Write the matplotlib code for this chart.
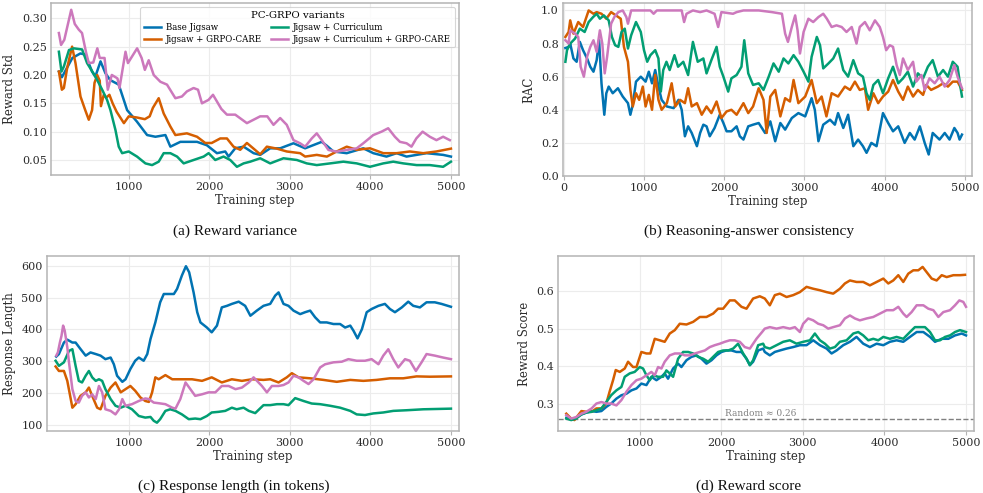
"""PC-GRPO training curves: 2x2 panel figure (reward std, RAC, length, score)."""
import matplotlib
matplotlib.use("Agg")
import matplotlib.pyplot as plt

# ---- data (step, value) -------------------------------------------------------
STD_BASE = [(133, 0.206), (170, 0.196), (300, 0.23), (400, 0.238), (460, 0.236), (545, 0.206),
            (585, 0.197), (650, 0.224), (711, 0.203), (770, 0.191), (876, 0.183), (980, 0.138),
            (1100, 0.118), (1228, 0.094), (1331, 0.091), (1455, 0.094), (1517, 0.0735), (1641, 0.082),
            (1848, 0.082), (1970, 0.076), (2095, 0.062), (2198, 0.065), (2240, 0.056), (2322, 0.0706),
            (2426, 0.0735), (2550, 0.062), (2632, 0.059), (2756, 0.0706), (2880, 0.0706), (3045, 0.0795),
            (3190, 0.0706), (3396, 0.082), (3460, 0.075), (3541, 0.065), (3706, 0.062), (3912, 0.0706),
            (4036, 0.062), (4200, 0.056), (4325, 0.062), (4449, 0.056), (4697, 0.062), (4903, 0.059),
            (5000, 0.056)]
STD_CARE = [(133, 0.206), (170, 0.174), (195, 0.177), (235, 0.212), (277, 0.238), (297, 0.25),
            (339, 0.221), (401, 0.162), (460, 0.138), (504, 0.121), (545, 0.138), (575, 0.186),
            (608, 0.2), (640, 0.19), (655, 0.145), (690, 0.165), (720, 0.16), (760, 0.165),
            (800, 0.15), (850, 0.135), (940, 0.115), (1000, 0.127), (1100, 0.125), (1200, 0.122),
            (1260, 0.127), (1300, 0.142), (1372, 0.159), (1434, 0.132), (1517, 0.109), (1579, 0.094),
            (1722, 0.097), (1848, 0.091), (1950, 0.08), (2030, 0.08), (2136, 0.088), (2219, 0.088),
            (2301, 0.0735), (2384, 0.068), (2467, 0.08), (2550, 0.07), (2632, 0.06), (2715, 0.0735),
            (2840, 0.07), (2962, 0.065), (3128, 0.062), (3190, 0.056), (3334, 0.059), (3460, 0.056),
            (3582, 0.065), (3706, 0.0735), (3830, 0.068), (3995, 0.0706), (4160, 0.062), (4325, 0.062),
            (4490, 0.065), (4656, 0.062), (4820, 0.065), (5000, 0.07)]
STD_CURR = [(133, 0.241), (165, 0.206), (195, 0.215), (258, 0.244), (318, 0.247), (421, 0.245),
            (483, 0.221), (587, 0.197), (670, 0.174), (731, 0.156), (773, 0.138), (835, 0.103),
            (876, 0.0735), (918, 0.062), (1000, 0.065), (1103, 0.056), (1207, 0.044), (1290, 0.041),
            (1372, 0.047), (1434, 0.062), (1517, 0.062), (1600, 0.056), (1682, 0.044), (1806, 0.05),
            (1930, 0.056), (1992, 0.062), (2074, 0.05), (2177, 0.056), (2260, 0.05), (2343, 0.038),
            (2426, 0.044), (2508, 0.047), (2632, 0.053), (2756, 0.044), (2921, 0.053), (3087, 0.05),
            (3210, 0.044), (3334, 0.041), (3500, 0.044), (3665, 0.047), (3830, 0.044), (3995, 0.038),
            (4160, 0.044), (4284, 0.047), (4408, 0.044), (4574, 0.041), (4738, 0.041), (4903, 0.038),
            (5000, 0.047)]
STD_CURR_CARE = [(133, 0.274), (160, 0.253), (200, 0.262), (286, 0.315), (330, 0.29), (380, 0.28),
                 (420, 0.274), (470, 0.24), (504, 0.221), (560, 0.222), (610, 0.247), (640, 0.23),
                 (700, 0.23), (740, 0.174), (790, 0.2), (860, 0.194), (885, 0.177), (960, 0.241),
                 (990, 0.221), (1104, 0.247), (1160, 0.23), (1200, 0.209), (1248, 0.226), (1310, 0.2),
                 (1393, 0.188), (1475, 0.183), (1579, 0.159), (1660, 0.162), (1722, 0.171), (1805, 0.177),
                 (1860, 0.174), (1909, 0.15), (1990, 0.156), (2046, 0.165), (2150, 0.14), (2219, 0.13),
                 (2322, 0.13), (2467, 0.115), (2632, 0.127), (2720, 0.127), (2797, 0.112), (2880, 0.124),
                 (2962, 0.112), (3045, 0.085), (3127, 0.0795), (3190, 0.0735), (3272, 0.088), (3334, 0.097),
                 (3396, 0.085), (3479, 0.0677), (3582, 0.0647), (3706, 0.0677), (3830, 0.0706),
                 (3912, 0.0795), (4036, 0.094), (4139, 0.1), (4221, 0.106), (4304, 0.091), (4367, 0.082),
                 (4449, 0.0795), (4510, 0.0735), (4570, 0.088), (4648, 0.1), (4738, 0.091), (4820, 0.085),
                 (4903, 0.091), (4986, 0.085)]

RAC_BASE = [(20, 0.773), (60, 0.78), (80, 0.8), (120, 0.71), (160, 0.69), (200, 0.81), (240, 0.76),
            (290, 0.71), (330, 0.66), (370, 0.63), (410, 0.70), (440, 0.82), (470, 0.56), (505, 0.37),
            (530, 0.5), (560, 0.54), (610, 0.5), (675, 0.53), (735, 0.48), (800, 0.44), (830, 0.37),
            (860, 0.43), (900, 0.57), (960, 0.6), (1020, 0.57), (1060, 0.63), (1100, 0.56), (1140, 0.64),
            (1180, 0.54), (1220, 0.46), (1285, 0.42), (1370, 0.41), (1430, 0.46), (1470, 0.4),
            (1510, 0.24), (1550, 0.3), (1595, 0.26), (1660, 0.18), (1700, 0.26), (1740, 0.31),
            (1780, 0.3), (1820, 0.24), (1880, 0.29), (1945, 0.37), (1990, 0.32), (2030, 0.27),
            (2090, 0.27), (2155, 0.3), (2195, 0.24), (2240, 0.22), (2300, 0.3), (2360, 0.31),
            (2430, 0.32), (2510, 0.26), (2575, 0.33), (2636, 0.21), (2700, 0.32), (2760, 0.28),
            (2843, 0.35), (2925, 0.38), (3010, 0.36), (3090, 0.47), (3130, 0.4), (3175, 0.21),
            (3235, 0.31), (3320, 0.34), (3380, 0.31), (3420, 0.38), (3485, 0.29), (3545, 0.37),
            (3610, 0.18), (3670, 0.22), (3730, 0.18), (3775, 0.14), (3835, 0.2), (3900, 0.18),
            (3980, 0.38), (4045, 0.32), (4105, 0.27), (4170, 0.3), (4250, 0.2), (4315, 0.26),
            (4375, 0.22), (4440, 0.3), (4500, 0.2), (4550, 0.13), (4600, 0.26), (4685, 0.22),
            (4750, 0.26), (4810, 0.22), (4870, 0.29), (4910, 0.26), (4935, 0.22), (4965, 0.25)]
RAC_CARE = [(20, 0.84), (60, 0.87), (80, 0.94), (120, 0.86), (180, 0.93), (240, 0.9), (310, 1.0),
            (370, 0.98), (410, 0.99), (470, 0.98), (530, 0.95), (590, 0.99), (650, 0.97), (710, 0.95),
            (750, 0.78), (800, 0.69), (830, 0.52), (860, 0.42), (900, 0.5), (940, 0.46), (985, 0.54),
            (1020, 0.42), (1060, 0.49), (1100, 0.4), (1140, 0.61), (1180, 0.46), (1220, 0.4),
            (1285, 0.44), (1345, 0.56), (1390, 0.42), (1450, 0.46), (1510, 0.44), (1550, 0.53),
            (1595, 0.42), (1660, 0.44), (1720, 0.37), (1780, 0.42), (1840, 0.38), (1905, 0.45),
            (1965, 0.35), (2030, 0.39), (2090, 0.4), (2155, 0.37), (2240, 0.44), (2300, 0.38),
            (2360, 0.42), (2430, 0.53), (2490, 0.46), (2530, 0.26), (2575, 0.48), (2636, 0.52),
            (2700, 0.36), (2760, 0.47), (2820, 0.45), (2865, 0.58), (2925, 0.44), (3010, 0.48),
            (3090, 0.58), (3155, 0.44), (3215, 0.48), (3275, 0.36), (3340, 0.5), (3420, 0.48),
            (3505, 0.54), (3570, 0.52), (3630, 0.57), (3690, 0.52), (3755, 0.53), (3795, 0.4),
            (3860, 0.5), (3920, 0.44), (3980, 0.48), (4045, 0.51), (4105, 0.58), (4170, 0.51),
            (4230, 0.46), (4290, 0.54), (4355, 0.48), (4415, 0.52), (4480, 0.49), (4520, 0.55),
            (4580, 0.52), (4665, 0.54), (4730, 0.56), (4790, 0.54), (4850, 0.57), (4910, 0.57),
            (4965, 0.52)]
RAC_CURR = [(20, 0.69), (40, 0.76), (80, 0.8), (140, 0.83), (200, 0.89), (260, 0.87), (310, 0.93),
            (365, 0.96), (410, 0.98), (450, 0.95), (500, 0.97), (560, 0.94), (600, 0.84), (640, 0.79),
            (680, 0.78), (720, 0.87), (760, 0.89), (800, 0.77), (840, 0.85), (900, 0.93), (960, 0.87),
            (1000, 0.76), (1040, 0.69), (1080, 0.73), (1140, 0.76), (1180, 0.71), (1210, 0.51),
            (1240, 0.64), (1280, 0.69), (1320, 0.64), (1380, 0.73), (1425, 0.66), (1490, 0.69),
            (1550, 0.61), (1610, 0.81), (1670, 0.69), (1740, 0.71), (1780, 0.62), (1840, 0.70),
            (1905, 0.78), (1945, 0.66), (1990, 0.6), (2050, 0.51), (2090, 0.59), (2155, 0.61),
            (2215, 0.66), (2250, 0.82), (2300, 0.62), (2360, 0.55), (2430, 0.56), (2490, 0.52),
            (2555, 0.6), (2615, 0.68), (2680, 0.63), (2740, 0.71), (2800, 0.68), (2865, 0.73),
            (2925, 0.69), (2990, 0.63), (3050, 0.57), (3090, 0.72), (3155, 0.84), (3195, 0.79),
            (3235, 0.65), (3300, 0.68), (3360, 0.71), (3420, 0.77), (3485, 0.64), (3545, 0.6),
            (3610, 0.70), (3670, 0.62), (3730, 0.6), (3775, 0.5), (3815, 0.46), (3860, 0.55),
            (3920, 0.58), (3980, 0.5), (4045, 0.59), (4105, 0.66), (4170, 0.56), (4230, 0.59),
            (4290, 0.63), (4355, 0.54), (4415, 0.62), (4480, 0.59), (4540, 0.66), (4600, 0.70),
            (4665, 0.6), (4730, 0.64), (4790, 0.6), (4850, 0.69), (4910, 0.66), (4945, 0.54),
            (4965, 0.48)]
RAC_CURR_CARE = [(20, 0.82), (60, 0.8), (80, 0.88), (140, 0.86), (180, 0.84), (210, 0.66), (250, 0.6),
                 (290, 0.72), (330, 0.78), (370, 0.82), (410, 0.75), (450, 0.88), (480, 0.8), (510, 0.62),
                 (540, 0.72), (590, 0.92), (630, 0.96), (680, 0.99), (735, 1.0), (780, 0.96), (800, 0.92),
                 (840, 1.0), (1080, 1.0), (1120, 0.98), (1160, 1.0), (1470, 1.0), (1500, 0.93),
                 (1530, 0.98), (1610, 1.0), (1700, 0.99), (1780, 1.0), (1880, 0.98), (1925, 0.9),
                 (1965, 0.99), (2110, 0.98), (2155, 0.99), (2240, 1.0), (2430, 1.0), (2595, 0.99),
                 (2720, 0.98), (2760, 0.86), (2795, 0.81), (2843, 0.9), (2885, 0.97), (2915, 0.88),
                 (2945, 0.74), (2990, 0.87), (3050, 0.95), (3110, 0.93), (3175, 0.96), (3235, 0.98),
                 (3280, 0.95), (3340, 0.9), (3400, 0.91), (3465, 0.9), (3525, 0.87), (3590, 0.9),
                 (3650, 0.8), (3690, 0.9), (3755, 0.93), (3815, 0.88), (3880, 0.94), (3940, 0.9),
                 (3980, 0.84), (4020, 0.76), (4065, 0.79), (4105, 0.78), (4150, 0.67), (4190, 0.61),
                 (4230, 0.71), (4290, 0.64), (4355, 0.69), (4395, 0.57), (4460, 0.61), (4500, 0.52),
                 (4560, 0.59), (4625, 0.56), (4685, 0.6), (4750, 0.54), (4810, 0.58), (4870, 0.67),
                 (4910, 0.6), (4965, 0.53)]

LEN_BASE = [(100, 315), (133, 323), (195, 359), (237, 368), (300, 359), (340, 359), (400, 339),
            (465, 318), (525, 328), (590, 323), (650, 318), (710, 307), (775, 312), (815, 291),
            (855, 255), (920, 236), (960, 244), (1020, 276), (1080, 302), (1125, 312), (1185, 302),
            (1230, 323), (1270, 370), (1330, 422), (1390, 485), (1435, 511), (1475, 511), (1560, 511),
            (1600, 527), (1660, 569), (1710, 598), (1750, 579), (1805, 516), (1850, 454), (1890, 422),
            (1970, 406), (2030, 391), (2095, 412), (2155, 469), (2220, 474), (2280, 480), (2365, 487),
            (2445, 474), (2510, 443), (2590, 459), (2673, 474), (2756, 480), (2818, 506), (2860, 516),
            (2921, 480), (2983, 474), (3045, 459), (3128, 448), (3190, 454), (3252, 459), (3314, 438),
            (3376, 422), (3458, 422), (3541, 417), (3624, 417), (3686, 406), (3750, 412), (3790, 396),
            (3840, 372), (3895, 401), (3954, 454), (4015, 464), (4100, 474), (4180, 480), (4243, 464),
            (4305, 454), (4390, 469), (4470, 487), (4532, 474), (4615, 469), (4697, 485), (4800, 485),
            (4883, 480), (5000, 471)]
LEN_CARE = [(92, 284), (133, 270), (195, 270), (237, 239), (280, 182), (300, 155), (340, 166),
            (400, 192), (465, 203), (505, 218), (546, 192), (608, 155), (650, 150), (710, 192),
            (775, 218), (835, 234), (900, 203), (960, 213), (1020, 223), (1080, 208), (1145, 187),
            (1205, 176), (1250, 173), (1290, 203), (1330, 250), (1372, 244), (1455, 257), (1540, 244),
            (1660, 244), (1786, 244), (1910, 239), (2030, 250), (2155, 234), (2280, 244), (2405, 239),
            (2530, 244), (2673, 242), (2756, 244), (2860, 234), (2962, 250), (3025, 263), (3108, 250),
            (3252, 247), (3417, 242), (3582, 236), (3750, 242), (3912, 239), (4078, 242), (4243, 247),
            (4408, 247), (4574, 253), (4738, 252), (5000, 253)]
LEN_CURR = [(92, 302), (133, 286), (195, 297), (258, 333), (300, 338), (340, 286), (380, 239),
            (420, 234), (465, 255), (505, 270), (546, 250), (590, 239), (630, 244), (670, 239),
            (710, 213), (775, 182), (835, 161), (900, 155), (960, 161), (1040, 150), (1125, 129),
            (1205, 124), (1270, 126), (1310, 114), (1350, 108), (1390, 119), (1455, 145), (1515, 150),
            (1580, 145), (1660, 134), (1745, 119), (1825, 121), (1890, 119), (1970, 129), (2030, 140),
            (2115, 142), (2198, 145), (2280, 155), (2340, 150), (2425, 155), (2490, 145), (2570, 138),
            (2673, 163), (2756, 163), (2840, 166), (2921, 166), (2983, 163), (3066, 185), (3170, 176),
            (3272, 168), (3376, 166), (3500, 161), (3624, 155), (3750, 145), (3830, 134), (3933, 132),
            (4036, 137), (4160, 140), (4284, 145), (4449, 147), (4656, 150), (5000, 152)]
LEN_CURR_CARE = [(100, 318), (120, 328), (145, 359), (165, 380), (185, 412), (205, 396), (237, 344),
                 (258, 297), (300, 213), (340, 176), (380, 171), (420, 192), (465, 203), (505, 187),
                 (546, 197), (590, 182), (630, 223), (670, 203), (710, 150), (775, 145), (835, 134),
                 (880, 150), (920, 182), (960, 161), (1040, 166), (1125, 176), (1205, 184), (1250, 182),
                 (1310, 171), (1372, 169), (1455, 166), (1540, 155), (1580, 152), (1640, 182),
                 (1705, 234), (1765, 213), (1825, 192), (1910, 197), (1990, 203), (2075, 203),
                 (2155, 223), (2240, 223), (2325, 213), (2405, 218), (2490, 234), (2550, 250),
                 (2611, 234), (2653, 223), (2715, 203), (2777, 223), (2860, 223), (2921, 226),
                 (2983, 234), (3045, 255), (3108, 250), (3170, 239), (3232, 229), (3294, 244),
                 (3376, 281), (3438, 291), (3541, 297), (3645, 299), (3727, 307), (3830, 302),
                 (3933, 302), (4015, 307), (4100, 291), (4160, 318), (4222, 338), (4284, 307),
                 (4346, 281), (4430, 307), (4490, 302), (4565, 270), (4635, 297), (4697, 323),
                 (4800, 318), (4903, 312), (5000, 307)]

SCORE_BASE = [(100, 0.263), (160, 0.259), (220, 0.263), (285, 0.272), (345, 0.277), (410, 0.281),
              (469, 0.279), (530, 0.281), (590, 0.292), (650, 0.301), (714, 0.314), (775, 0.323),
              (836, 0.327), (898, 0.336), (960, 0.341), (1020, 0.354), (1082, 0.35), (1143, 0.372),
              (1205, 0.363), (1266, 0.372), (1306, 0.381), (1347, 0.367), (1409, 0.394), (1470, 0.407),
              (1511, 0.398), (1573, 0.416), (1634, 0.425), (1696, 0.429), (1757, 0.42), (1818, 0.407),
              (1880, 0.416), (1941, 0.429), (2002, 0.438), (2063, 0.442), (2125, 0.442), (2186, 0.438),
              (2247, 0.438), (2309, 0.42), (2350, 0.403), (2390, 0.412), (2452, 0.442), (2513, 0.447),
              (2533, 0.438), (2595, 0.429), (2656, 0.438), (2718, 0.442), (2800, 0.447), (2881, 0.451),
              (2963, 0.456), (3045, 0.456), (3127, 0.469), (3209, 0.456), (3291, 0.447), (3352, 0.434),
              (3413, 0.442), (3495, 0.456), (3577, 0.465), (3658, 0.478), (3740, 0.46), (3822, 0.451),
              (3904, 0.46), (3986, 0.456), (4067, 0.465), (4149, 0.469), (4231, 0.465), (4313, 0.478),
              (4395, 0.491), (4477, 0.491), (4559, 0.478), (4620, 0.465), (4702, 0.473), (4784, 0.473),
              (4865, 0.482), (4947, 0.487), (5000, 0.482)]
SCORE_CARE = [(100, 0.274), (160, 0.261), (200, 0.257), (245, 0.27), (285, 0.281), (345, 0.279),
              (410, 0.279), (469, 0.288), (530, 0.288), (590, 0.301), (630, 0.332), (673, 0.363),
              (706, 0.39), (755, 0.385), (816, 0.394), (857, 0.412), (918, 0.398), (960, 0.398),
              (1020, 0.438), (1082, 0.434), (1130, 0.434), (1184, 0.473), (1245, 0.469), (1306, 0.465),
              (1368, 0.487), (1430, 0.496), (1491, 0.513), (1573, 0.511), (1655, 0.518), (1737, 0.531),
              (1818, 0.531), (1900, 0.54), (1961, 0.553), (2022, 0.553), (2104, 0.575), (2165, 0.575),
              (2247, 0.558), (2309, 0.553), (2390, 0.58), (2472, 0.586), (2533, 0.58), (2595, 0.562),
              (2656, 0.589), (2718, 0.593), (2800, 0.584), (2881, 0.589), (2963, 0.597), (3045, 0.611),
              (3127, 0.606), (3209, 0.602), (3291, 0.597), (3372, 0.593), (3454, 0.606), (3515, 0.62),
              (3577, 0.628), (3658, 0.624), (3740, 0.624), (3822, 0.615), (3904, 0.624), (3986, 0.633),
              (4047, 0.62), (4108, 0.628), (4170, 0.642), (4231, 0.624), (4292, 0.646), (4354, 0.655),
              (4415, 0.655), (4468, 0.664), (4518, 0.65), (4579, 0.633), (4640, 0.628), (4702, 0.642),
              (4763, 0.637), (4845, 0.642), (4926, 0.642), (4988, 0.643)]
SCORE_CURR = [(100, 0.261), (160, 0.257), (220, 0.261), (285, 0.272), (345, 0.277), (410, 0.279),
              (469, 0.283), (530, 0.288), (590, 0.305), (650, 0.323), (714, 0.336), (775, 0.345),
              (816, 0.372), (877, 0.381), (938, 0.385), (1000, 0.398), (1041, 0.394), (1082, 0.376),
              (1123, 0.363), (1164, 0.376), (1225, 0.372), (1286, 0.372), (1327, 0.389), (1368, 0.381),
              (1409, 0.372), (1470, 0.42), (1532, 0.438), (1594, 0.438), (1655, 0.434), (1716, 0.425),
              (1778, 0.42), (1839, 0.412), (1900, 0.425), (1961, 0.438), (2022, 0.442), (2084, 0.442),
              (2145, 0.447), (2206, 0.46), (2268, 0.434), (2309, 0.42), (2350, 0.403), (2390, 0.416),
              (2452, 0.456), (2513, 0.46), (2533, 0.451), (2595, 0.447), (2677, 0.456), (2759, 0.465),
              (2840, 0.469), (2922, 0.46), (3004, 0.465), (3086, 0.469), (3147, 0.487), (3209, 0.469),
              (3270, 0.46), (3332, 0.447), (3393, 0.451), (3454, 0.465), (3536, 0.469), (3618, 0.487),
              (3679, 0.491), (3740, 0.482), (3802, 0.469), (3863, 0.473), (3924, 0.469), (3986, 0.478),
              (4067, 0.473), (4149, 0.478), (4231, 0.473), (4313, 0.491), (4374, 0.504), (4436, 0.504),
              (4497, 0.504), (4559, 0.491), (4620, 0.469), (4681, 0.469), (4743, 0.478), (4804, 0.482),
              (4865, 0.491), (4926, 0.496), (5000, 0.491)]
SCORE_CURR_CARE = [(100, 0.27), (160, 0.261), (220, 0.265), (285, 0.274), (345, 0.279), (410, 0.288),
                   (469, 0.301), (530, 0.305), (590, 0.301), (650, 0.301), (714, 0.296), (775, 0.31),
                   (836, 0.332), (898, 0.35), (960, 0.363), (1020, 0.367), (1082, 0.376), (1143, 0.385),
                   (1184, 0.376), (1225, 0.398), (1266, 0.394), (1306, 0.412), (1368, 0.429), (1430, 0.434),
                   (1491, 0.434), (1552, 0.429), (1614, 0.429), (1675, 0.434), (1737, 0.438), (1798, 0.442),
                   (1859, 0.451), (1920, 0.456), (1982, 0.46), (2043, 0.465), (2104, 0.469), (2165, 0.469),
                   (2227, 0.465), (2288, 0.451), (2350, 0.447), (2431, 0.473), (2500, 0.491), (2533, 0.5),
                   (2595, 0.504), (2677, 0.5), (2759, 0.504), (2840, 0.5), (2902, 0.504), (2963, 0.491),
                   (3004, 0.513), (3065, 0.527), (3127, 0.522), (3188, 0.513), (3250, 0.509), (3311, 0.5),
                   (3372, 0.504), (3454, 0.509), (3515, 0.527), (3577, 0.535), (3638, 0.527), (3699, 0.522),
                   (3781, 0.527), (3863, 0.531), (3945, 0.54), (4027, 0.549), (4108, 0.549), (4170, 0.558),
                   (4231, 0.54), (4272, 0.531), (4333, 0.544), (4395, 0.562), (4477, 0.562), (4538, 0.553),
                   (4600, 0.549), (4661, 0.531), (4722, 0.544), (4804, 0.549), (4865, 0.562), (4918, 0.575),
                   (4967, 0.571), (5000, 0.558)]

VARIANTS = ["Base Jigsaw", "Jigsaw + GRPO-CARE", "Jigsaw + Curriculum",
            "Jigsaw + Curriculum + GRPO-CARE"]
RANDOM_SCORE = 0.26

COLORS = ["#0173b2", "#d55e00", "#029e73", "#cc78bc"]
SPINE = "#b4b4b4"
GRID = "#ececec"
TXT = "#2b2b2b"

plt.rcParams["font.family"] = ["DejaVu Serif"]


def style(ax, xlim, ylim, yticks, fmt):
    ax.set_xlim(*xlim)
    ax.set_ylim(*ylim)
    ax.set_yticks(yticks)
    ax.set_yticklabels([fmt.format(v) for v in yticks])
    ax.grid(True, color=GRID, linewidth=0.8)
    ax.set_axisbelow(True)
    for s in ax.spines.values():
        s.set_color(SPINE)
        s.set_linewidth(1.1)
    ax.tick_params(axis="x", length=3, width=0.8, color=SPINE, labelsize=8, labelcolor=TXT, pad=2)
    ax.tick_params(axis="y", length=0, labelsize=8, labelcolor=TXT, pad=3)
    ax.set_xlabel("Training step", fontsize=8.5, color=TXT, labelpad=1.5)


def draw(ax, series):
    for pts, color, label in zip(series, COLORS, VARIANTS):
        xs, ys = zip(*pts)
        ax.plot(xs, ys, color=color, linewidth=1.8, label=label, solid_joinstyle="round")


fig = plt.figure(figsize=(9.83, 4.93), dpi=100)
W, H = 983, 493


def rect(l, t, r, b):
    return [l / W, 1 - b / H, (r - l) / W, (b - t) / H]


ax_a = fig.add_axes(rect(51, 3, 459, 175))
ax_b = fig.add_axes(rect(563, 3, 972, 176))
ax_c = fig.add_axes(rect(47, 256, 459, 431))
ax_d = fig.add_axes(rect(558, 256, 974, 431))

draw(ax_a, [STD_BASE, STD_CARE, STD_CURR, STD_CURR_CARE])
style(ax_a, (35, 5100), (0.0235, 0.327), [0.05, 0.10, 0.15, 0.20, 0.25, 0.30], "{:.2f}")
ax_a.set_xticks([1000, 2000, 3000, 4000, 5000])
ax_a.set_ylabel("Reward Std", fontsize=8.5, color=TXT)
leg = ax_a.legend(title="PC-GRPO variants", ncol=2, loc="upper right", fontsize=6.2,
                  title_fontsize=7.3, frameon=True, fancybox=True, borderaxespad=0.5,
                  handlelength=2.0, handletextpad=0.6, columnspacing=1.0, labelspacing=0.35,
                  borderpad=0.4)
leg.get_frame().set_edgecolor("#cccccc")
leg.get_frame().set_linewidth(0.8)

draw(ax_b, [RAC_BASE, RAC_CARE, RAC_CURR, RAC_CURR_CARE])
style(ax_b, (-10, 5090), (0.0, 1.045), [0.0, 0.2, 0.4, 0.6, 0.8, 1.0], "{:.1f}")
ax_b.set_xticks([0, 1000, 2000, 3000, 4000, 5000])
ax_b.set_ylabel("RAC", fontsize=8.5, color=TXT)

draw(ax_c, [LEN_BASE, LEN_CARE, LEN_CURR, LEN_CURR_CARE])
style(ax_c, (-15, 5100), (82, 630), [100, 200, 300, 400, 500, 600], "{:d}")
ax_c.set_xticks([1000, 2000, 3000, 4000, 5000])
ax_c.set_ylabel("Response Length", fontsize=8.5, color=TXT)

draw(ax_d, [SCORE_BASE, SCORE_CARE, SCORE_CURR, SCORE_CURR_CARE])
ax_d.axhline(RANDOM_SCORE, color="#808080", linestyle="--", linewidth=1.0, zorder=1.5)
ax_d.text(2050, RANDOM_SCORE + 0.003, "Random \u2248 0.26", fontsize=6.5, color="#808080",
          ha="left", va="bottom")
style(ax_d, (-2, 5098), (0.228, 0.693), [0.3, 0.4, 0.5, 0.6], "{:.1f}")
ax_d.set_xticks([1000, 2000, 3000, 4000, 5000])
ax_d.set_ylabel("Reward Score", fontsize=8.5, color=TXT)

CAPTIONS = ["(a) Reward variance", "(b) Reasoning-answer consistency",
            "(c) Response length (in tokens)", "(d) Reward score"]
for (cx, cy), cap in zip([(235, 231), (749, 231), (234, 486), (749, 486)], CAPTIONS):
    fig.text(cx / W, 1 - cy / H, cap, ha="center", va="center", fontsize=11,
             family=["Liberation Serif"], color="#111111")

fig.savefig("out.png", dpi=100)
